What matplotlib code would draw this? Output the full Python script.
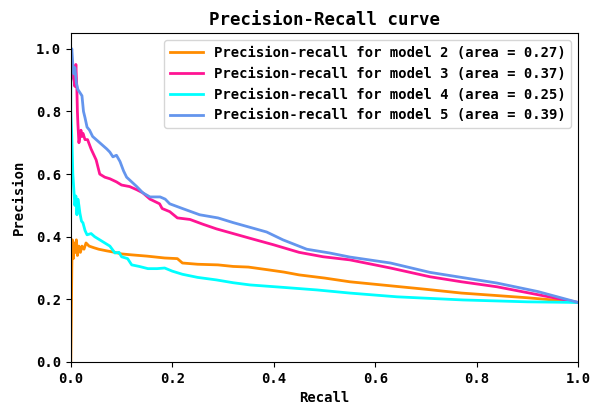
import matplotlib
matplotlib.use("Agg")
import matplotlib.pyplot as plt

plt.rcParams['font.family'] = ['DejaVu Sans Mono']
plt.rcParams['font.weight'] = 'bold'

labels = ["Precision-recall for model 2 (area = 0.27)",
          "Precision-recall for model 3 (area = 0.37)",
          "Precision-recall for model 4 (area = 0.25)",
          "Precision-recall for model 5 (area = 0.39)"]
colors = ["darkorange", "deeppink", "aqua", "cornflowerblue"]

r2 = [0.0, 0.001, 0.002, 0.003, 0.005, 0.007, 0.009, 0.011, 0.013, 0.016, 0.019, 0.022, 0.026, 0.030,
      0.036, 0.045, 0.055, 0.07, 0.087, 0.10, 0.12, 0.15, 0.185, 0.21, 0.22, 0.25, 0.29, 0.32, 0.35,
      0.39, 0.42, 0.45, 0.5, 0.55, 0.6, 0.65, 0.7, 0.77, 0.84, 0.9, 0.95, 1.0]
p2 = [0.0, 0.14, 0.30, 0.39, 0.33, 0.38, 0.35, 0.39, 0.34, 0.37, 0.35, 0.37, 0.36, 0.38,
      0.37, 0.365, 0.36, 0.355, 0.35, 0.345, 0.342, 0.338, 0.332, 0.33, 0.316, 0.312, 0.31, 0.305, 0.303,
      0.294, 0.287, 0.278, 0.268, 0.256, 0.248, 0.24, 0.232, 0.22, 0.212, 0.205, 0.198, 0.19]

r3 = [0.0, 0.004, 0.008, 0.010, 0.012, 0.013, 0.014, 0.016, 0.018, 0.020, 0.022, 0.024, 0.028, 0.033,
      0.040, 0.050, 0.057, 0.067, 0.077, 0.09, 0.10, 0.116, 0.13, 0.142, 0.156, 0.175, 0.18, 0.195,
      0.21, 0.235, 0.26, 0.287, 0.32, 0.353, 0.40, 0.45, 0.497, 0.55, 0.63, 0.708, 0.77, 0.84, 0.92, 1.0]
p3 = [0.90, 0.93, 0.88, 0.95, 0.87, 0.80, 0.76, 0.70, 0.72, 0.74, 0.72, 0.73, 0.71, 0.71,
      0.68, 0.645, 0.60, 0.59, 0.585, 0.575, 0.565, 0.56, 0.55, 0.54, 0.52, 0.505, 0.49, 0.48,
      0.46, 0.455, 0.44, 0.425, 0.41, 0.395, 0.374, 0.35, 0.336, 0.326, 0.30, 0.272, 0.256, 0.24, 0.215, 0.19]

r4 = [0.0, 0.0, 0.002, 0.004, 0.006, 0.008, 0.010, 0.012, 0.014, 0.016, 0.018, 0.021, 0.024, 0.028,
      0.032, 0.04, 0.047, 0.057, 0.067, 0.077, 0.087, 0.095, 0.10, 0.112, 0.12, 0.135, 0.152, 0.17,
      0.185, 0.2, 0.22, 0.25, 0.287, 0.32, 0.353, 0.42, 0.485, 0.55, 0.643, 0.773, 0.9, 1.0]
p4 = [0.95, 0.80, 0.72, 0.60, 0.55, 0.50, 0.53, 0.47, 0.52, 0.50, 0.475, 0.45, 0.444, 0.42,
      0.406, 0.41, 0.40, 0.39, 0.38, 0.37, 0.348, 0.35, 0.336, 0.33, 0.31, 0.305, 0.298, 0.298,
      0.30, 0.29, 0.28, 0.27, 0.262, 0.253, 0.246, 0.238, 0.23, 0.22, 0.208, 0.198, 0.192, 0.19]

r5 = [0.0, 0.002, 0.004, 0.006, 0.008, 0.011, 0.014, 0.018, 0.022, 0.025, 0.028, 0.032, 0.037, 0.043,
      0.050, 0.057, 0.064, 0.071, 0.077, 0.083, 0.090, 0.097, 0.104, 0.11, 0.12, 0.13, 0.142, 0.156,
      0.176, 0.186, 0.195, 0.22, 0.254, 0.29, 0.32, 0.353, 0.386, 0.418, 0.465, 0.51, 0.55, 0.63,
      0.708, 0.77, 0.84, 0.92, 1.0]
p5 = [0.97, 1.0, 0.95, 0.92, 0.94, 0.89, 0.87, 0.86, 0.85, 0.80, 0.78, 0.75, 0.74, 0.72,
      0.71, 0.70, 0.69, 0.68, 0.67, 0.655, 0.66, 0.64, 0.61, 0.59, 0.575, 0.56, 0.54, 0.527,
      0.527, 0.52, 0.505, 0.49, 0.47, 0.46, 0.445, 0.43, 0.415, 0.39, 0.36, 0.348, 0.335, 0.316,
      0.286, 0.27, 0.252, 0.225, 0.19]

recalls = [r2, r3, r4, r5]
precisions = [p2, p3, p4, p5]

fig = plt.figure(figsize=(5.9, 4.09), dpi=100)
ax = fig.add_axes([0.120, 0.115, 0.860, 0.804])
for r, p, c, lab in zip(recalls, precisions, colors, labels):
    ax.plot(r, p, color=c, lw=2, label=lab)

ax.set_xlim(0.0, 1.0)
ax.set_ylim(0.0, 1.05)
ax.set_xticks([0.0, 0.2, 0.4, 0.6, 0.8, 1.0])
ax.set_yticks([0.0, 0.2, 0.4, 0.6, 0.8, 1.0])
ax.tick_params(labelsize=10)
ax.set_xlabel("Recall", fontsize=10, fontweight='bold')
ax.set_ylabel("Precision", fontsize=10, fontweight='bold', labelpad=7)
ax.set_title("Precision-Recall curve", fontsize=12.5, fontweight='bold')
ax.legend(loc="upper right", prop={'weight': 'bold', 'size': 10}, handlelength=2.4)

fig.savefig("out.png", dpi=100)
